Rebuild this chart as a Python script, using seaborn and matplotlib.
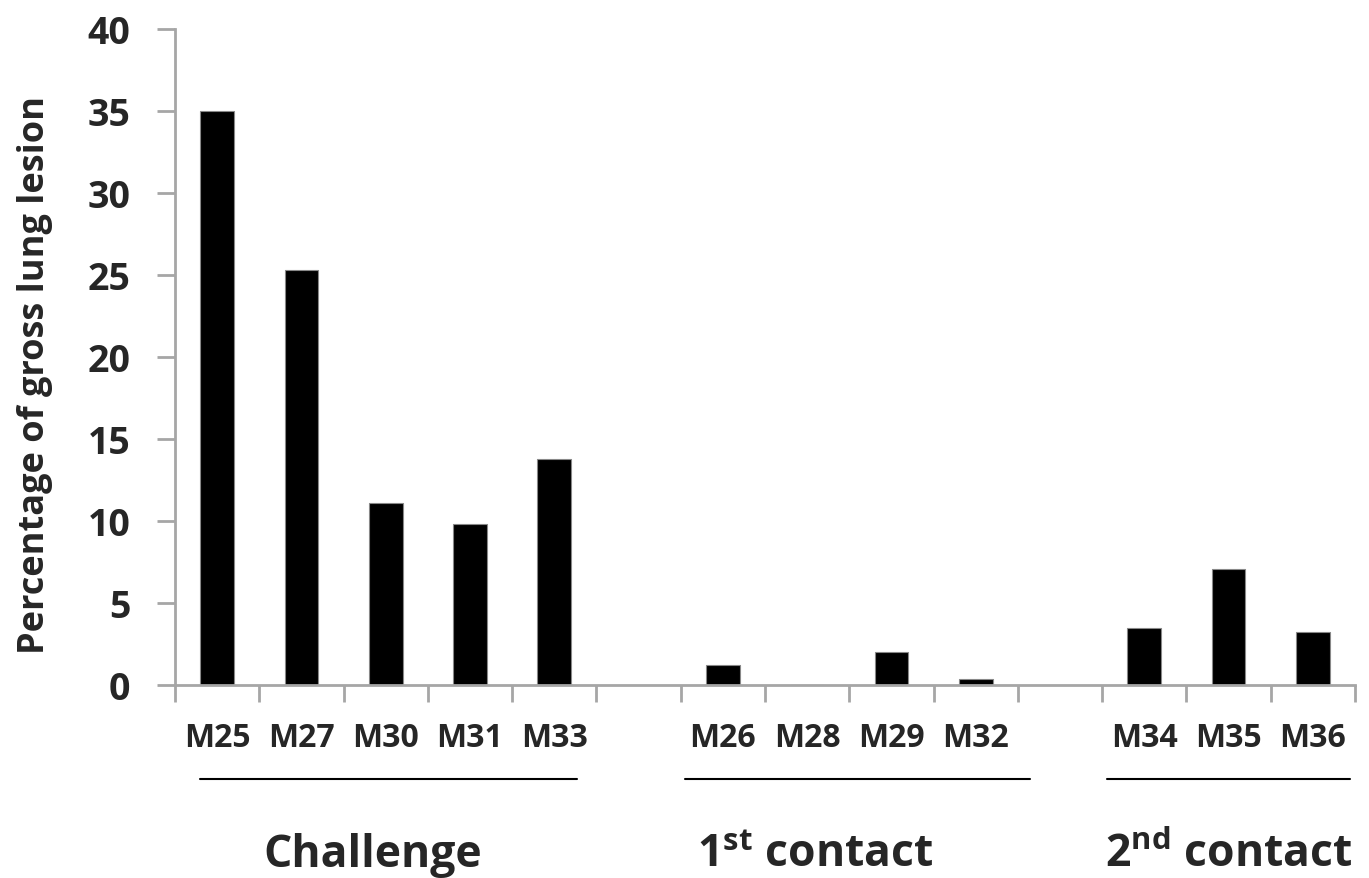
import numpy as np
import pandas as pd
import matplotlib
matplotlib.use("Agg")
import matplotlib.pyplot as plt
import seaborn as sns

# values
challenge = ["M25", "M27", "M30", "M31", "M33"]
challenge_vals = [35.0, 25.3, 11.1, 9.8, 13.8]
contact1 = ["M26", "M28", "M29", "M32"]
contact1_vals = [1.2, 0.0, 2.0, 0.35]
contact2 = ["M34", "M35", "M36"]
contact2_vals = [3.5, 7.1, 3.2]
group_names = ["Challenge", r"1$^{\mathbf{st}}$ contact", r"2$^{\mathbf{nd}}$ contact"]

df = pd.DataFrame({
    "Animal": challenge + contact1 + contact2,
    "Lesion": challenge_vals + contact1_vals + contact2_vals,
})
# blank slots between groups
order = challenge + [" "] + contact1 + ["  "] + contact2

sns.set_style("white")
plt.rcParams["font.family"] = ["Open Sans", "DejaVu Sans"]
plt.rcParams["font.weight"] = "bold"
plt.rcParams["mathtext.fontset"] = "custom"
plt.rcParams["mathtext.rm"] = "Open Sans:bold"
plt.rcParams["mathtext.bf"] = "Open Sans:bold"

fig = plt.figure(figsize=(13.69, 8.79), dpi=100)
ax = fig.add_axes([0.1278, 0.2196, 0.862, 0.7463])

sns.barplot(data=df, x="Animal", y="Lesion", order=order, color="black",
            width=0.4, edgecolor="#888888", linewidth=0.8, ax=ax)

ax.set_ylim(0, 40)
ax.set_xlim(-0.5, len(order) - 0.5)
ax.set_yticks(range(0, 41, 5))
ax.tick_params(axis="y", left=True, labelsize=27, length=13, width=2,
               color="#a6a6a6", pad=19)
ax.set_xticks(range(len(order)))
ax.set_xticklabels(order, fontsize=23, fontweight="bold")
ax.tick_params(axis="x", length=0, pad=26)
ax.set_xticks(np.arange(-0.5, len(order), 1), minor=True)
ax.tick_params(axis="x", which="minor", bottom=True, length=12, width=2,
               color="#a6a6a6")
for lab in ax.get_yticklabels():
    lab.set_fontweight("bold")

sns.despine(ax=ax)
for s in ["left", "bottom"]:
    ax.spines[s].set_color("#a6a6a6")
    ax.spines[s].set_linewidth(2)

ax.set_xlabel("")
ax.set_ylabel("Percentage of gross lung lesion", fontsize=26, fontweight="bold")
ax.yaxis.set_label_coords(-0.103, 0.474)

# group underlines and names
spans = [(-0.2, 4.27), (5.55, 9.64), (10.56, 13.44)]
name_x = [1.85, 7.1, 12.0]
trans = ax.get_xaxis_transform()
for (x0, x1), nx, name in zip(spans, name_x, group_names):
    ax.plot([x0, x1], [-0.143, -0.143], color="black", lw=1.5,
            transform=trans, clip_on=False)
    ax.text(nx, -0.258, name, transform=trans, ha="center", va="center",
            fontsize=32, fontweight="bold")

fig.savefig("out.png", dpi=100)
